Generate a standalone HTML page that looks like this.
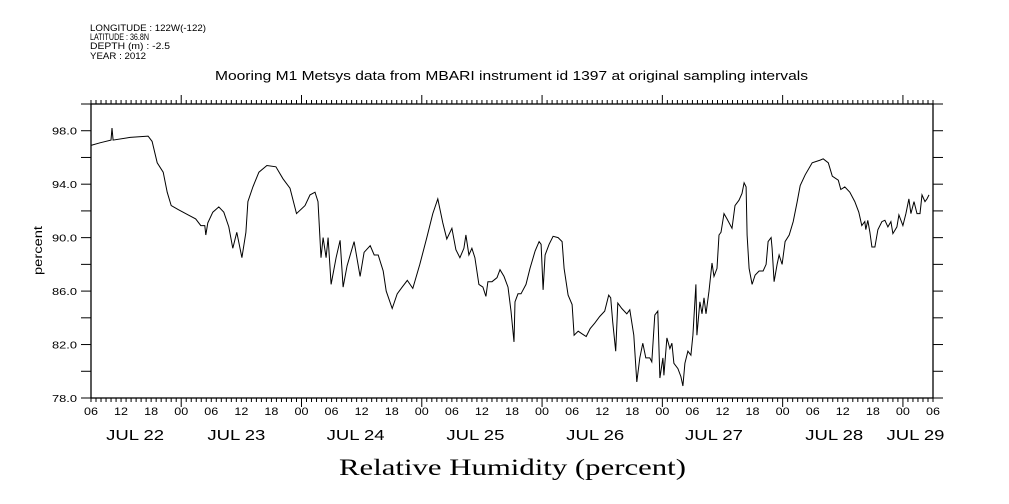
<!DOCTYPE html>
<html><head><meta charset="utf-8"><style>
html,body{margin:0;padding:0;background:#fff;}
svg{display:block;font-family:"Liberation Sans",sans-serif;}
</style></head><body>
<svg id="chart" width="1009" height="504" viewBox="0 0 1009 504" xmlns="http://www.w3.org/2000/svg">
<g font-size="9" fill="#000">
<text x="90" y="31" textLength="116" lengthAdjust="spacingAndGlyphs">LONGITUDE : 122W(-122)</text>
<text x="90" y="40" textLength="59" lengthAdjust="spacingAndGlyphs">LATITUDE : 36.8N</text>
<text x="90" y="49" textLength="80" lengthAdjust="spacingAndGlyphs">DEPTH (m) : -2.5</text>
<text x="90" y="59" textLength="56" lengthAdjust="spacingAndGlyphs">YEAR : 2012</text>
</g>
<text x="215" y="80" textLength="593" lengthAdjust="spacingAndGlyphs" font-size="12.5">Mooring M1 Metsys data from MBARI instrument id 1397 at original sampling intervals</text>
<text x="339" y="475" textLength="347" lengthAdjust="spacingAndGlyphs" font-size="23" font-family="'Liberation Serif',serif">Relative Humidity (percent)</text>
<text transform="translate(42,226) rotate(-90)" x="-49" y="0" textLength="49" lengthAdjust="spacingAndGlyphs" font-size="12">percent</text>
<g id="axes"></g>
<g id="series"></g>
</svg>
<script>
const hours = [0,1.8,4.0,4.2,4.4,7.8,11.4,12.2,13.2,14.4,15.2,16.0,17.4,19.4,20.9,21.9,22.7,22.9,23.3,24.3,25.5,26.5,27.5,28.3,29.1,30.1,30.9,31.3,32.3,33.5,35.1,36.9,38.3,39.7,41.0,42.7,43.7,44.7,45.3,45.9,46.3,46.9,47.3,47.9,48.9,49.7,50.3,51.1,52.5,53.7,54.5,55.7,56.5,57.3,58.3,58.9,60.1,61.1,62.1,63.1,64.2,65.6,67.0,68.2,69.2,70.2,71.0,72.0,72.8,73.6,74.4,74.8,75.4,76.0,76.6,77.4,78.2,78.8,79.2,80.0,81.0,81.6,82.4,83.2,83.8,84.4,84.6,85.2,85.8,86.8,87.6,88.6,89.4,89.8,90.2,90.6,91.4,92.2,93.2,94.0,94.4,95.2,96.0,96.4,97.2,98.0,98.8,99.6,100.5,101.5,102.5,103.3,103.7,104.1,104.7,105.1,105.9,106.9,107.5,108.3,108.9,109.5,110.1,110.7,111.5,111.9,112.5,113.1,113.5,114.1,114.3,114.9,115.5,115.9,116.3,117.1,117.7,118.1,118.5,119.1,119.7,120.1,120.7,120.9,121.5,121.9,122.3,122.7,123.3,123.9,124.3,124.9,125.3,125.7,126.3,126.9,127.9,128.5,129.3,129.9,130.3,130.7,130.9,131.3,131.9,132.5,133.3,134.1,134.7,135.1,135.7,135.9,136.3,136.9,137.3,137.9,138.5,139.3,140.1,140.9,141.5,142.5,143.9,145.5,146.1,147.1,147.9,149.1,149.6,150.4,151.4,152.4,153.2,153.8,154.4,154.6,155.0,155.4,155.8,156.4,157.0,157.8,158.4,159.0,159.6,160.0,160.8,161.2,162.0,162.6,163.2,163.6,164.2,164.8,165.4,165.8,166.4,166.8,167.2];
const humidity = [96.9,97.1,97.3,98.2,97.3,97.5,97.6,97.2,95.6,94.9,93.4,92.4,92.1,91.7,91.4,90.9,90.9,90.2,91.1,91.9,92.3,91.9,90.8,89.2,90.4,88.5,90.4,92.7,93.8,94.9,95.4,95.3,94.4,93.7,91.8,92.4,93.2,93.4,92.7,88.5,90.0,88.5,90.0,86.5,88.5,89.8,86.3,87.9,89.7,87.1,88.9,89.4,88.7,88.7,87.5,86.0,84.7,85.8,86.3,86.8,86.2,88.0,90.0,91.8,92.9,91.1,89.9,90.7,89.1,88.5,89.2,90.2,88.7,89.2,88.5,86.5,86.3,85.6,86.7,86.7,87.0,87.6,87.1,86.3,84.5,82.2,85.2,85.8,85.8,86.5,87.7,89.0,89.7,89.5,86.1,88.7,89.5,90.1,90.0,89.7,87.7,85.7,85.0,82.7,83.0,82.8,82.6,83.2,83.6,84.1,84.5,85.7,85.5,83.7,81.5,85.1,84.7,84.3,84.6,82.7,79.2,81.0,82.1,81.0,81.0,80.7,84.2,84.5,79.5,81.0,79.7,82.5,81.7,82.1,80.6,80.2,79.6,78.9,80.6,81.5,81.2,82.7,86.5,82.7,85.2,84.3,85.5,84.3,86.0,88.1,87.1,87.7,90.2,90.4,91.8,91.4,90.7,92.4,92.8,93.3,94.1,93.8,90.2,87.7,86.5,87.2,87.5,87.5,88.0,89.7,90.0,89.2,86.7,88.0,88.7,88.0,89.7,90.2,91.2,92.7,93.9,94.7,95.6,95.8,95.9,95.6,94.6,94.3,93.6,93.8,93.4,92.7,91.9,90.9,91.2,90.6,91.3,90.4,89.3,89.3,90.6,91.2,91.3,90.8,91.2,90.3,90.8,91.7,90.9,91.8,92.9,91.8,92.7,91.8,91.8,93.2,92.7,92.9,93.2];
const yTickValues = [78,82,86,90,94,98];
const yTickLabels = ["78.0","82.0","86.0","90.0","94.0","98.0"];
const hourLabels = ["06","12","18","00"];
const dayLabels = ["JUL 22","JUL 23","JUL 24","JUL 25","JUL 26","JUL 27","JUL 28","JUL 29"];
const dayLabelHours = [8.8,29.0,52.8,76.7,100.6,124.3,148.3,164.5];

const L=91,R=933,T=104,B=398,H0=0,H1=168,Y0=78,Y1=100;
function xS(h){return L+(h-H0)/(H1-H0)*(R-L);}
function yS(v){return B-(v-Y0)/(Y1-Y0)*(B-T);}
const NS="http://www.w3.org/2000/svg";
function mk(tag,attrs,parent){const e=document.createElementNS(NS,tag);for(const k in attrs)e.setAttribute(k,attrs[k]);parent.appendChild(e);return e;}
const ax=document.getElementById('axes');
const fr=mk('rect',{x:L,y:T,width:R-L,height:B-T,fill:'none',stroke:'#000','stroke-width':1.3},ax);


for(let v=Y0;v<=Y1;v+=2){
  const y=yS(v);
  const a=mk('line',{x1:L-10,x2:L,y1:y,y2:y,stroke:'#000','stroke-width':1},ax);
  
  
  const b=mk('line',{x1:R,x2:R+10,y1:y,y2:y,stroke:'#000','stroke-width':1},ax);
  
  
}
yTickValues.forEach((v,i)=>{
  const t=mk('text',{x:52,y:yS(v)+4,textLength:25,lengthAdjust:'spacingAndGlyphs','font-size':10.5},ax);
  t.textContent=yTickLabels[i];
  
  
});
for(let h=0;h<=168;h++){
  const x=xS(h);
  const mid=((h+6)%24)===0;
  const len=mid?9:4;
  const a=mk('line',{x1:x,x2:x,y1:B,y2:B+len,stroke:'#000','stroke-width':1},ax);
  
  
  const b=mk('line',{x1:x,x2:x,y1:T-len,y2:T,stroke:'#000','stroke-width':1},ax);
  
  
  if(h%6===0){
    const t=mk('text',{x:x-7,y:415,textLength:14,lengthAdjust:'spacingAndGlyphs','font-size':11},ax);
    t.textContent=hourLabels[(h/6)%4];
    
    
  }
}
dayLabels.forEach((d,i)=>{
  const t=mk('text',{x:xS(dayLabelHours[i])-29,y:440,textLength:58,lengthAdjust:'spacingAndGlyphs','font-size':15},ax);
  t.textContent=d;
  
  
});
const pts=hours.map((h,i)=>xS(h).toFixed(1)+','+yS(humidity[i]).toFixed(1)).join(' ');
const pl=mk('polyline',{points:pts,fill:'none',stroke:'#000','stroke-width':1},document.getElementById('series'));


</script>
</body></html>
